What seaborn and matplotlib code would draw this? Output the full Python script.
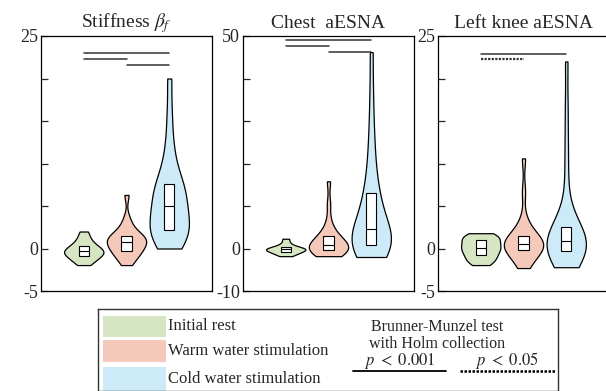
import numpy as np
import pandas as pd
import seaborn as sns
import matplotlib.pyplot as plt
from matplotlib.patches import Rectangle

# conditions and colours
conditions = ["Initial rest", "Warm water stimulation", "Cold water stimulation"]
colors = ["#d6e6c3", "#f4c9b9", "#cdeaf8"]

# per-panel samples (approximate)
stiff_rest = [-1.95, -1.6, -1.3, -1.1, -0.9, -0.75, -0.6, -0.45, -0.3, -0.2, -0.05, 0.15, 0.35, 0.6, 0.95, 1.4, 2.0]
stiff_warm = [-1.95, -1.4, -1.0, -0.7, -0.45, -0.25, 0.0, 0.2, 0.4, 0.6, 0.8, 0.95, 1.1, 1.25, 1.4, 1.5, 1.8, 2.2, 2.7, 3.6, 6.3]
stiff_cold = [0.0, 0.4, 0.9, 1.3, 1.6, 1.9, 2.2, 2.6, 3.0, 3.4, 3.9, 4.4, 5.0, 5.5, 6.0, 6.5, 7.0, 7.3, 7.6, 8.5, 9.6, 11.0, 13.0, 16.0, 20.0]

chest_rest = [-1.8, -1.4, -1.1, -0.9, -0.7, -0.5, -0.3, -0.2, -0.1, 0.0, 0.2, 0.5, 0.7, 1.4, 2.3]
chest_warm = [-1.8, -1.5, -1.2, -0.9, -0.6, -0.4, -0.1, 0.2, 0.4, 0.6, 0.8, 1.1, 1.5, 2.0, 2.5, 2.9, 3.5, 4.5, 6.5, 10.5, 15.8]
chest_cold = [-2.0, -1.6, -1.2, -0.8, -0.3, 0.2, 0.6, 0.9, 1.4, 1.9, 2.4, 2.9, 3.4, 3.9, 4.5, 5.5, 6.5, 7.5, 9.0,
              10.5, 12.0, 13.0, 15.0, 18.0, 21.0, 25.0, 30.0, 37.0, 46.2]

knee_rest = [-1.95, -1.6, -1.35, -1.05, -0.8, -0.55, -0.3, -0.1, 0.1, 0.3, 0.5, 0.75, 1.0, 1.2, 1.4, 1.6, 1.8]
knee_warm = [-2.3, -1.7, -1.2, -0.8, -0.5, -0.2, 0.0, 0.15, 0.3, 0.4, 0.5, 0.7, 0.9, 1.1, 1.3, 1.45, 1.9, 2.5, 3.5, 6.7, 10.6]
knee_cold = [-2.2, -1.8, -1.4, -1.1, -0.8, -0.5, -0.3, -0.1, 0.1, 0.3, 0.45, 0.6, 0.8, 1.0, 1.3, 1.6, 1.9, 2.2, 2.4,
             2.6, 3.8, 5.5, 9.0, 12.5, 16.7, 22.0]

titles = [r"Stiffness $\beta_f$", "Chest  aESNA", "Left knee aESNA"]
ylims = [(-5, 25), (-10, 50), (-5, 25)]
ystep = [5, 10, 5]

# significance brackets: (group a, group b, height, style)
brackets = [
    [(0, 2, 23.0, "solid"), (0, 1, 22.3, "solid"), (1, 2, 21.6, "solid")],
    [(0, 2, 49.0, "solid"), (0, 1, 47.6, "solid"), (1, 2, 46.2, "solid")],
    [(0, 2, 22.9, "solid"), (0, 1, 22.3, "dotted")],
]

panels = [
    [stiff_rest, stiff_warm, stiff_cold],
    [chest_rest, chest_warm, chest_cold],
    [knee_rest, knee_warm, knee_cold],
]

sns.set_style("white")
plt.rcParams["font.family"] = ["Liberation Serif", "DejaVu Serif"]
plt.rcParams["mathtext.fontset"] = "stix"

W, H = 606, 391
fig = plt.figure(figsize=(W / 100, H / 100), dpi=100)

lefts = [41, 243, 438]
for k in range(3):
    ax = fig.add_axes([lefts[k] / W, (H - 291) / H, 171 / W, 255 / H])
    rows = []
    for cond, vals in zip(conditions, panels[k]):
        for v in vals:
            rows.append((cond, v))
    df = pd.DataFrame(rows, columns=["cond", "value"])

    sns.violinplot(data=df, x="cond", y="value", hue="cond", order=conditions,
                   hue_order=conditions, palette=colors, cut=0, inner=None,
                   density_norm="width", width=0.92, linewidth=0.9, bw_adjust=0.75,
                   linecolor="black", saturation=1, legend=False, ax=ax)
    sns.boxplot(data=df, x="cond", y="value", order=conditions, width=0.24,
                whis=0, showfliers=False, showcaps=False, color="white",
                linecolor="black", linewidth=0.8, saturation=1,
                whiskerprops={"linewidth": 0}, ax=ax)

    for a, b, h, style in brackets[k]:
        if style == "solid":
            ax.plot([a, b], [h, h], color="#333333", lw=1.1)
        else:
            ax.plot([a, b], [h, h], color="#333333", lw=1.6, ls=(0, (1, 0.6)))

    lo, hi = ylims[k]
    ax.set_xlim(-1, 3)
    ax.set_ylim(lo, hi)
    ticks = np.arange(lo, hi + 1, ystep[k])
    labels = [str(t) if t in (lo, 0, hi) else "" for t in ticks]
    ax.set_yticks(ticks, labels)
    ax.set_xticks([])
    ax.set_xlabel("")
    ax.set_ylabel("")
    ax.tick_params(axis="y", direction="in", length=5, width=0.9, pad=2,
                   labelsize=13, left=True)
    for s in ax.spines.values():
        s.set_visible(True)
        s.set_color("black")
        s.set_linewidth(0.9)
    ax.set_title(titles[k], fontsize=14, pad=6)

# legend box
lax = fig.add_axes([98 / W, 0, 460 / W, 82 / H])
lax.set_xlim(0, 460)
lax.set_ylim(82, 0)
lax.set_xticks([])
lax.set_yticks([])
for s in lax.spines.values():
    s.set_color("#333333")
    s.set_linewidth(1.0)
ys = [(7, 28), (31, 53), (58, 82)]
for (y0, y1), c, name in zip(ys, colors, conditions):
    lax.add_patch(Rectangle((5, y0), 63, y1 - y0, facecolor=c, edgecolor="none"))
    lax.text(70, (y0 + y1) / 2, name, fontsize=12, va="center", ha="left")
lax.text(339, 22, "Brunner-Munzel test", fontsize=11.5, ha="center", va="baseline")
lax.text(339, 39, "with Holm collection", fontsize=11.5, ha="center", va="baseline")
lax.text(302, 56, r"$p\ <\ 0.001$", fontsize=12, ha="center", va="baseline")
lax.text(409, 56, r"$p\ <\ 0.05$", fontsize=12, ha="center", va="baseline")
lax.plot([255, 348], [62, 62], color="black", lw=1.3)
lax.plot([362, 457], [62, 62], color="black", lw=1.8, ls=(0, (1, 0.6)))

fig.savefig("out.png", dpi=100)
